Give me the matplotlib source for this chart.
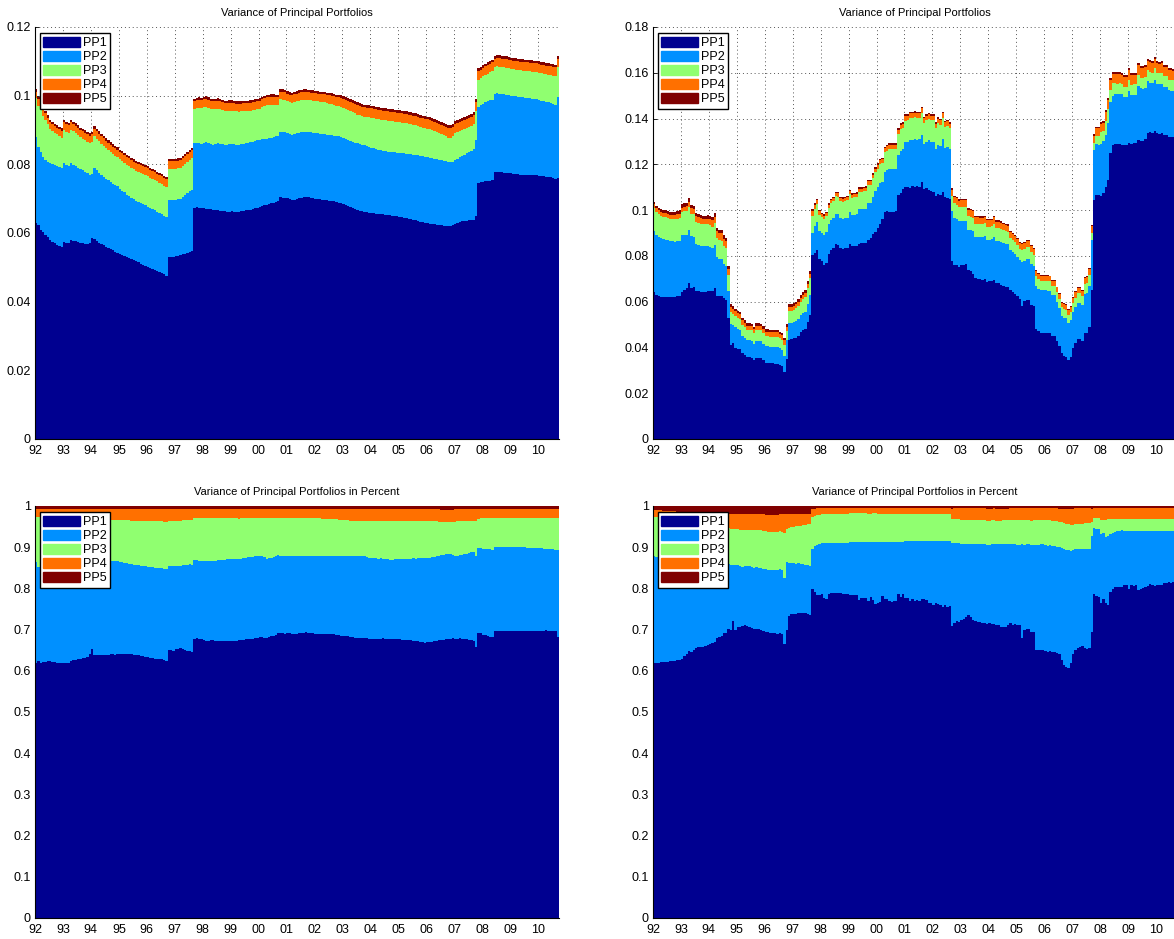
import numpy as np
import matplotlib
matplotlib.use("Agg")
import matplotlib.pyplot as plt
from matplotlib.patches import Patch
from matplotlib.ticker import FuncFormatter

# monthly variance of the five principal portfolios, Jan 1992 - Sep 2010
# values are in units of 1e-4
start_year = 1992
tick_years = list(range(1992, 2011))
pp_labels = ["PP1", "PP2", "PP3", "PP4", "PP5"]
pp_colors = ["#000090", "#0090ff", "#90ff70", "#ff7000", "#800000"]

# ---------------------------------------------------------------- left set
left_pp1 = [
    630, 622, 610, 602, 595, 588, 580, 575, 570, 566, 562, 560,
    575, 572, 570, 580, 578, 576, 574, 571, 570, 568, 567, 570,
    584, 582, 578, 572, 568, 564, 560, 556, 553, 550, 546, 543,
    540, 537, 534, 530, 527, 524, 520, 517, 514, 511, 508, 505,
    502, 499, 496, 493, 490, 487, 484, 480, 476, 531, 530, 529,
    532, 534, 536, 538, 540, 542, 544, 547, 672, 676, 674, 672,
    672, 671, 670, 669, 668, 667, 666, 665, 664, 663, 662, 662,
    663, 662, 661, 662, 663, 665, 666, 667, 668, 670, 672, 674,
    676, 678, 680, 682, 684, 686, 688, 690, 692, 704, 703, 702,
    701, 698, 696, 697, 699, 701, 703, 705, 706, 704, 703, 702,
    700, 699, 698, 697, 696, 695, 694, 693, 692, 690, 688, 686,
    684, 681, 678, 675, 672, 669, 667, 665, 664, 662, 661, 659,
    658, 657, 656, 655, 654, 654, 653, 652, 651, 650, 649, 648,
    647, 646, 645, 644, 642, 641, 639, 637, 635, 633, 631, 629,
    628, 627, 626, 625, 624, 623, 622, 621, 620, 619, 619, 622,
    626, 630, 633, 634, 635, 636, 637, 638, 639, 650, 745, 748,
    748, 750, 752, 752, 753, 778, 779, 778, 777, 776, 775, 774,
    774, 773, 772, 771, 770, 770, 769, 769, 769, 768, 768, 768,
    767, 766, 765, 764, 763, 762, 760, 758, 760,
]
left_pp2 = [
    250, 228, 225, 220, 218, 220, 223, 225, 227, 229, 229, 228,
    228, 226, 226, 223, 221, 219, 216, 214, 212, 210, 207, 199,
    188, 206, 204, 203, 201, 200, 198, 197, 195, 193, 194, 193,
    188, 186, 184, 182, 181, 179, 178, 177, 176, 175, 175, 175,
    175, 174, 174, 173, 172, 171, 170, 170, 171, 165, 166, 167,
    164, 164, 164, 167, 171, 174, 178, 179, 189, 187, 188, 188,
    190, 193, 192, 189, 189, 192, 195, 195, 194, 193, 195, 196,
    196, 196, 196, 194, 195, 195, 195, 195, 196, 196, 196, 196,
    196, 196, 195, 193, 192, 192, 192, 191, 190, 191, 191, 191,
    190, 190, 190, 191, 191, 191, 191, 190, 189, 190, 190, 190,
    191, 191, 191, 191, 191, 191, 191, 191, 191, 192, 193, 194,
    194, 194, 194, 194, 194, 194, 194, 194, 193, 193, 191, 191,
    190, 189, 189, 188, 188, 186, 185, 185, 185, 185, 186, 186,
    187, 187, 187, 187, 188, 188, 189, 190, 191, 192, 192, 193,
    193, 192, 192, 191, 191, 190, 190, 189, 189, 188, 187, 186,
    186, 186, 187, 190, 193, 196, 199, 202, 205, 220, 223, 224,
    228, 230, 231, 234, 235, 227, 228, 228, 228, 228, 228, 228,
    226, 226, 226, 226, 226, 225, 225, 224, 223, 223, 222, 221,
    220, 219, 218, 217, 217, 216, 216, 216, 237,
]
left_pp3 = [
    112, 120, 122, 120, 116, 108, 100, 97, 94, 92, 91, 90,
    98, 97, 96, 98, 97, 96, 95, 94, 93, 93, 92, 93,
    93, 94, 93, 92, 91, 90, 89, 88, 87, 86, 85, 84,
    86, 86, 86, 86, 87, 87, 87, 87, 87, 88, 88, 88,
    88, 88, 88, 88, 88, 88, 88, 88, 88, 90, 90, 90,
    90, 90, 90, 90, 90, 90, 90, 92, 100, 101, 103, 104,
    104, 104, 103, 103, 103, 102, 101, 100, 99, 99, 98, 98,
    97, 97, 97, 97, 96, 95, 94, 93, 92, 92, 91, 91,
    90, 92, 95, 98, 97, 96, 94, 92, 90, 94, 94, 94,
    92, 92, 93, 93, 93, 93, 93, 93, 93, 93, 93, 93,
    93, 93, 93, 93, 93, 92, 92, 91, 90, 89, 88, 87,
    86, 86, 85, 85, 85, 85, 84, 84, 84, 84, 86, 87,
    88, 88, 88, 89, 88, 89, 90, 90, 90, 90, 89, 89,
    88, 88, 88, 88, 88, 87, 86, 86, 85, 84, 84, 84,
    83, 83, 81, 80, 78, 77, 75, 74, 72, 71, 72, 74,
    78, 78, 77, 76, 75, 74, 73, 72, 72, 85, 78, 78,
    80, 80, 81, 82, 84, 78, 78, 78, 78, 78, 78, 78,
    78, 78, 78, 78, 78, 78, 78, 79, 79, 79, 79, 80,
    80, 80, 81, 81, 81, 82, 82, 83, 86,
]
left_pp4 = [
    20, 20, 20, 20, 20, 20, 20, 20, 20, 20, 20, 20,
    21, 21, 21, 21, 21, 21, 21, 21, 21, 21, 21, 21,
    22, 22, 22, 22, 22, 22, 22, 22, 22, 22, 22, 22,
    23, 23, 23, 23, 23, 23, 23, 23, 23, 23, 23, 23,
    23, 23, 23, 23, 23, 23, 23, 23, 23, 23, 23, 23,
    23, 23, 23, 23, 23, 23, 23, 23, 23, 23, 23, 23,
    23, 23, 23, 23, 23, 23, 23, 23, 23, 23, 23, 23,
    23, 23, 23, 23, 23, 23, 23, 23, 23, 23, 23, 23,
    23, 23, 23, 23, 23, 23, 23, 23, 23, 23, 23, 23,
    23, 23, 23, 23, 23, 23, 23, 23, 23, 23, 23, 23,
    23, 23, 23, 24, 24, 24, 24, 25, 25, 25, 26, 26,
    27, 27, 27, 27, 27, 27, 27, 27, 27, 27, 27, 27,
    27, 27, 27, 27, 27, 27, 27, 27, 27, 27, 27, 27,
    27, 27, 27, 27, 27, 27, 27, 27, 27, 27, 27, 27,
    27, 27, 27, 27, 27, 27, 27, 27, 27, 27, 27, 27,
    27, 27, 27, 27, 27, 27, 27, 27, 27, 27, 25, 25,
    25, 25, 25, 25, 25, 25, 25, 25, 25, 25, 25, 25,
    25, 25, 25, 25, 25, 25, 25, 25, 25, 25, 25, 25,
    25, 25, 25, 25, 25, 25, 25, 25, 25,
]
left_pp5 = [
    7, 7, 7, 7, 7, 7, 7, 7, 7, 7, 7, 7,
    7, 7, 7, 7, 7, 7, 7, 7, 7, 7, 7, 7,
    7, 7, 7, 7, 7, 7, 7, 7, 7, 7, 7, 7,
    6, 6, 6, 6, 6, 6, 6, 6, 6, 6, 6, 6,
    6, 6, 6, 6, 6, 6, 6, 6, 6, 6, 6, 6,
    6, 6, 6, 6, 6, 6, 6, 6, 7, 7, 7, 7,
    7, 7, 7, 7, 7, 7, 7, 7, 7, 7, 7, 7,
    7, 7, 7, 7, 7, 7, 7, 7, 7, 7, 7, 7,
    7, 7, 7, 7, 7, 7, 7, 7, 7, 7, 7, 7,
    7, 7, 7, 7, 7, 7, 7, 7, 7, 7, 7, 7,
    7, 7, 7, 7, 7, 7, 7, 7, 7, 7, 8, 8,
    8, 8, 8, 8, 8, 8, 8, 8, 8, 8, 8, 8,
    8, 8, 8, 8, 8, 8, 8, 8, 8, 8, 8, 8,
    8, 8, 8, 8, 8, 8, 8, 8, 8, 8, 8, 8,
    8, 8, 8, 8, 8, 8, 8, 8, 8, 8, 8, 8,
    8, 8, 8, 8, 8, 8, 8, 8, 8, 8, 8, 8,
    8, 8, 8, 8, 8, 8, 8, 8, 8, 8, 8, 8,
    8, 8, 8, 8, 8, 8, 8, 8, 8, 8, 8, 8,
    8, 8, 8, 8, 8, 8, 8, 8, 8,
]

# --------------------------------------------------------------- right set
right_pp1 = [
    641, 631, 626, 622, 621, 621, 619, 619, 619, 619, 623, 626,
    644, 653, 659, 682, 659, 662, 645, 645, 643, 642, 644, 647,
    648, 647, 660, 626, 624, 625, 614, 609, 529, 412, 418, 399,
    395, 393, 376, 368, 358, 357, 355, 344, 354, 354, 352, 343,
    333, 332, 330, 330, 329, 328, 324, 318, 293, 350, 432, 435,
    439, 443, 451, 466, 474, 480, 509, 540, 802, 814, 824, 785,
    777, 761, 768, 809, 827, 835, 852, 849, 834, 830, 833, 835,
    853, 842, 843, 845, 850, 855, 856, 857, 870, 880, 895, 905,
    920, 940, 960, 990, 995, 992, 990, 992, 995, 1066, 1075, 1090,
    1100, 1102, 1098, 1105, 1100, 1103, 1100, 1124, 1090, 1095, 1088, 1085,
    1080, 1060, 1070, 1065, 1080, 1055, 1052, 1050, 777, 760, 762, 752,
    758, 762, 765, 740, 735, 722, 702, 700, 698, 696, 698, 686,
    688, 688, 695, 680, 680, 672, 668, 665, 666, 650, 640, 635,
    625, 612, 580, 602, 609, 609, 587, 579, 480, 471, 465, 465,
    465, 463, 462, 448, 448, 428, 407, 375, 364, 360, 344, 360,
    397, 419, 436, 438, 430, 465, 464, 489, 650, 1045, 1067, 1064,
    1060, 1075, 1100, 1130, 1248, 1283, 1290, 1288, 1290, 1285, 1283, 1285,
    1292, 1290, 1291, 1292, 1306, 1300, 1302, 1310, 1338, 1340, 1335, 1345,
    1335, 1333, 1335, 1330, 1328, 1320, 1318, 1318, 1320,
]
right_pp2 = [
    267, 262, 258, 255, 252, 250, 249, 246, 244, 242, 242, 241,
    246, 240, 234, 230, 226, 220, 207, 204, 202, 201, 198, 196,
    192, 189, 189, 167, 164, 160, 151, 147, 119, 92, 79, 89,
    85, 82, 76, 74, 73, 74, 74, 72, 76, 75, 76, 74,
    73, 73, 73, 73, 73, 74, 73, 72, 71, 83, 75, 73,
    73, 73, 74, 75, 76, 76, 81, 88, 97, 115, 126, 122,
    122, 131, 135, 128, 128, 129, 131, 132, 130, 130, 131, 132,
    140, 137, 137, 138, 153, 148, 149, 149, 161, 151, 163, 177,
    179, 179, 161, 176, 178, 187, 189, 187, 185, 173, 185, 175,
    197, 197, 210, 203, 210, 205, 209, 205, 198, 204, 216, 214,
    219, 208, 216, 216, 229, 217, 224, 218, 220, 207, 201, 201,
    194, 190, 187, 174, 177, 185, 182, 184, 185, 186, 187, 185,
    183, 185, 189, 186, 186, 190, 189, 188, 185, 175, 176, 173,
    172, 169, 195, 177, 179, 179, 179, 176, 188, 185, 184, 184,
    184, 184, 184, 179, 179, 172, 165, 164, 166, 168, 162, 158,
    157, 158, 159, 157, 154, 170, 173, 180, 218, 216, 222, 222,
    230, 225, 230, 250, 222, 217, 215, 217, 218, 220, 212, 210,
    230, 211, 213, 212, 237, 232, 228, 224, 224, 216, 218, 225,
    216, 216, 216, 207, 209, 203, 204, 203, 203,
]
right_pp3 = [
    99, 98, 98, 97, 98, 98, 98, 97, 97, 98, 98, 98,
    100, 101, 101, 103, 100, 100, 97, 95, 95, 94, 95, 94,
    94, 92, 93, 85, 82, 82, 79, 78, 67, 52, 50, 50,
    49, 49, 47, 46, 45, 45, 45, 45, 45, 46, 46, 45,
    44, 44, 44, 44, 44, 44, 43, 43, 48, 40, 51, 52,
    53, 55, 56, 59, 61, 63, 68, 74, 77, 75, 77, 72,
    70, 70, 71, 73, 75, 75, 77, 77, 75, 75, 75, 75,
    77, 75, 75, 75, 77, 77, 77, 77, 79, 79, 81, 83,
    82, 83, 84, 87, 87, 88, 88, 88, 88, 92, 94, 94,
    94, 94, 94, 94, 95, 94, 94, 96, 93, 94, 94, 94,
    94, 91, 93, 92, 94, 92, 92, 91, 64, 62, 61, 61,
    61, 61, 61, 58, 58, 58, 57, 57, 56, 56, 57, 56,
    56, 56, 57, 55, 55, 55, 55, 55, 54, 53, 52, 52,
    52, 51, 50, 51, 51, 51, 50, 49, 44, 43, 42, 42,
    43, 44, 43, 42, 42, 41, 39, 37, 37, 37, 35, 36,
    38, 39, 41, 41, 40, 44, 45, 47, 32, 32, 35, 37,
    50, 44, 59, 62, 56, 54, 49, 47, 46, 44, 44, 44,
    46, 45, 45, 45, 47, 47, 47, 47, 49, 48, 48, 49,
    48, 48, 48, 47, 47, 46, 46, 46, 46,
]
right_pp4 = [
    18, 18, 17, 18, 17, 18, 18, 18, 19, 19, 19, 20,
    21, 21, 22, 22, 22, 22, 23, 24, 24, 25, 25, 26,
    27, 28, 29, 29, 30, 31, 30, 30, 26, 21, 21, 21,
    20, 21, 20, 20, 19, 19, 20, 19, 20, 20, 20, 20,
    19, 20, 20, 20, 20, 20, 20, 20, 20, 18, 19, 18,
    18, 17, 17, 17, 17, 17, 17, 18, 20, 19, 17, 16,
    14, 14, 14, 14, 15, 15, 15, 15, 15, 15, 15, 15,
    14, 14, 14, 14, 14, 14, 14, 14, 15, 15, 15, 15,
    17, 17, 17, 18, 18, 18, 18, 18, 18, 19, 19, 19,
    20, 20, 20, 20, 20, 20, 20, 20, 20, 20, 20, 20,
    20, 19, 20, 20, 20, 19, 20, 19, 28, 28, 28, 27,
    30, 30, 30, 29, 29, 29, 28, 28, 28, 28, 28, 28,
    28, 28, 28, 28, 28, 28, 27, 27, 27, 26, 26, 26,
    26, 25, 25, 25, 25, 25, 25, 24, 21, 21, 21, 21,
    21, 21, 21, 21, 22, 21, 21, 20, 21, 22, 21, 23,
    24, 25, 25, 25, 24, 26, 26, 27, 30, 31, 33, 34,
    38, 38, 40, 40, 42, 42, 42, 42, 42, 42, 42, 42,
    42, 42, 42, 42, 42, 42, 42, 42, 42, 42, 42, 42,
    42, 42, 42, 42, 42, 42, 42, 42, 42,
]
right_pp5 = [
    10, 10, 11, 11, 12, 12, 12, 13, 13, 13, 14, 14,
    14, 14, 14, 15, 14, 14, 14, 14, 14, 14, 14, 14,
    14, 14, 15, 15, 15, 15, 15, 16, 14, 12, 12, 11,
    11, 11, 11, 10, 10, 10, 10, 10, 10, 10, 10, 10,
    10, 10, 10, 10, 10, 10, 9, 9, 9, 10, 12, 12,
    12, 12, 12, 13, 13, 13, 14, 15, 8, 7, 6, 5,
    5, 5, 5, 5, 5, 5, 5, 5, 5, 5, 5, 5,
    5, 5, 5, 5, 6, 6, 6, 6, 6, 6, 6, 6,
    6, 6, 6, 6, 6, 6, 6, 6, 6, 7, 7, 7,
    7, 7, 7, 7, 7, 7, 7, 7, 7, 7, 7, 7,
    7, 7, 7, 7, 7, 7, 7, 7, 7, 6, 6, 6,
    6, 6, 6, 6, 6, 6, 6, 6, 6, 6, 6, 6,
    6, 6, 6, 6, 6, 6, 6, 6, 6, 5, 5, 5,
    5, 5, 5, 5, 5, 5, 5, 5, 4, 4, 4, 4,
    4, 4, 4, 4, 4, 4, 4, 4, 4, 4, 4, 4,
    4, 4, 4, 4, 4, 4, 4, 4, 6, 7, 7, 7,
    8, 8, 8, 8, 9, 9, 9, 9, 9, 9, 9, 9,
    9, 9, 9, 9, 9, 9, 9, 9, 9, 9, 9, 9,
    9, 9, 9, 9, 9, 9, 9, 9, 9,
]

left_set = [left_pp1, left_pp2, left_pp3, left_pp4, left_pp5]
right_set = [right_pp1, right_pp2, right_pp3, right_pp4, right_pp5]
for series in left_set + right_set:
    assert len(series) == 225, len(series)

plt.rcParams["font.family"] = ["Liberation Sans", "DejaVu Sans"]
plt.rcParams["font.size"] = 9


def stacked_panel(ax, layers, ymax, ystep, title):
    n = len(layers[0])
    edges = start_year + np.arange(n + 1) / 12.0
    base = np.zeros(n)
    for vals, col in zip(layers, pp_colors):
        top = base + vals
        ax.stairs(top, edges, baseline=base, fill=True, color=col,
                  linewidth=0, zorder=2)
        base = top

    ax.set_xlim(edges[0], edges[-1])
    ax.set_ylim(0, ymax)
    ax.set_xticks(tick_years)
    ax.set_xticklabels([f"{y % 100:02d}" for y in tick_years])
    ax.set_yticks(np.arange(0, ymax + ystep / 2, ystep))
    ax.yaxis.set_major_formatter(FuncFormatter(lambda v, p: f"{v:g}"))

    ax.grid(True, linestyle=(0, (1, 3)), color="#555555", linewidth=0.7)
    ax.set_axisbelow(True)
    for side in ("top", "right"):
        ax.spines[side].set_visible(False)
    ax.spines["left"].set_linewidth(0.8)
    ax.spines["bottom"].set_linewidth(0.8)
    ax.tick_params(direction="in", length=3, width=0.6, labelsize=9)
    ax.tick_params(axis="x", pad=4)
    ax.tick_params(axis="y", pad=3)
    ax.set_title(title, fontsize=8, pad=8)

    handles = [Patch(facecolor=c, edgecolor=c) for c in pp_colors]
    leg = ax.legend(handles, pp_labels, loc="upper left",
                    bbox_to_anchor=(0.009, 0.985), borderaxespad=0,
                    fancybox=False, framealpha=1, edgecolor="black",
                    fontsize=9, handlelength=2.9, handleheight=0.9,
                    labelspacing=0.12, borderpad=0.3, handletextpad=0.25)
    leg.get_frame().set_linewidth(1.0)
    leg.set_zorder(5)


def shares(layers):
    arr = np.array(layers, dtype=float)
    return list(arr / arr.sum(axis=0))


fig = plt.figure(figsize=(11.74, 9.39), dpi=100)
ax_tl = fig.add_axes([0.0298, 0.5325, 0.4463, 0.4388])
ax_tr = fig.add_axes([0.5562, 0.5325, 0.4463, 0.4388])
ax_bl = fig.add_axes([0.0298, 0.0224, 0.4463, 0.4388])
ax_br = fig.add_axes([0.5562, 0.0224, 0.4463, 0.4388])

stacked_panel(ax_tl, [np.array(s) / 1e4 for s in left_set], 0.12, 0.02,
              "Variance of Principal Portfolios")
stacked_panel(ax_tr, [np.array(s) / 1e4 for s in right_set], 0.18, 0.02,
              "Variance of Principal Portfolios")
stacked_panel(ax_bl, shares(left_set), 1.0, 0.1,
              "Variance of Principal Portfolios in Percent")
stacked_panel(ax_br, shares(right_set), 1.0, 0.1,
              "Variance of Principal Portfolios in Percent")

fig.savefig("out.png", dpi=100)
